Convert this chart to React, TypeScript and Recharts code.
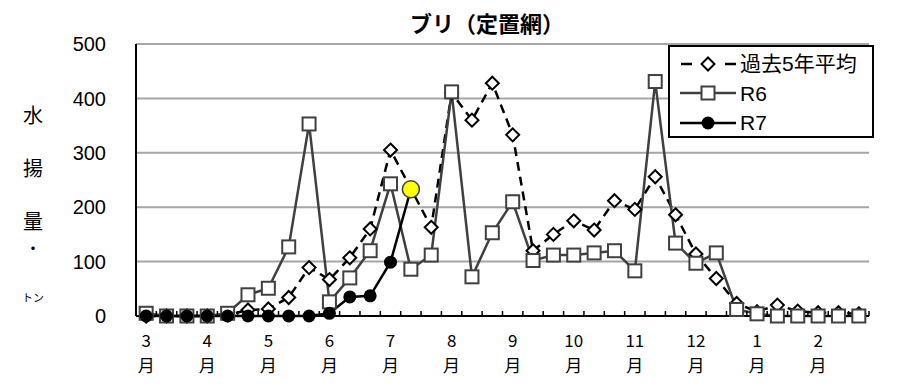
import { LineChart, Line, XAxis, YAxis, CartesianGrid, Legend } from "recharts";

// 旬別（上・中・下旬）3月〜翌2月
const monthLabels = ["3", "4", "5", "6", "7", "8", "9", "10", "11", "12", "1", "2"];
const avg5 = [0, 0, 0, 0, 2, 11, 13, 34, 89, 67, 107, 160, 305, 234, 163, 410, 360, 428, 333, 120, 150, 175, 158, 212, 196, 256, 186, 114, 69, 23, 8, 20, 9, 6, 6, 4];
const r6 = [5, 0, 0, 0, 5, 39, 51, 127, 353, 26, 70, 120, 243, 86, 112, 412, 72, 153, 210, 102, 112, 112, 116, 120, 83, 431, 134, 97, 116, 12, 4, 0, 0, 0, 0, 0];
const r7 = [0, 0, 0, 0, 0, 0, 0, 0, 0, 5, 35, 37, 99, 233];
const yTicks = [0, 100, 200, 300, 400, 500];

const data = avg5.map((v, i) => ({ i, avg: v, r6: r6[i], r7: i < r7.length ? r7[i] : null }));
const monthTicks = monthLabels.map((_, k) => k * 3);
const boundaryTicks = avg5.map((_, i) => i + 0.5);
const xTicks = [...monthTicks, ...boundaryTicks];

const JP = "'Noto Sans CJK JP', 'Noto Sans', sans-serif";
const NARROW = "'Liberation Sans Narrow', 'Liberation Sans'";

function XTick(props: any) {
  const { x, y, payload } = props;
  const v = payload.value;
  if (Number.isInteger(v)) {
    return (
      <g>
        <text x={x} y={y + 31} textAnchor="middle" fontSize={17} fontFamily={JP} fill="#000">
          {monthLabels[v / 3]}
        </text>
        <text x={x} y={y + 56} textAnchor="middle" fontSize={17} fontFamily={JP} fill="#000">
          月
        </text>
      </g>
    );
  }
  return <line x1={x} x2={x} y1={y} y2={y - 5} stroke="#000" strokeWidth={1.5} />;
}

function Diamond(props: any) {
  const { cx, cy, index } = props;
  if (cx == null || cy == null) return <g key={`d${index}`} />;
  return (
    <polygon
      key={`d${index}`}
      points={`${cx},${cy - 6.5} ${cx + 6.5},${cy} ${cx},${cy + 6.5} ${cx - 6.5},${cy}`}
      fill="#fff"
      stroke="#000"
      strokeWidth={2}
    />
  );
}

function Square(props: any) {
  const { cx, cy, index } = props;
  if (cx == null || cy == null) return <g key={`s${index}`} />;
  return <rect key={`s${index}`} x={cx - 6.5} y={cy - 6.5} width={13} height={13} fill="#fff" stroke="#404040" strokeWidth={2} />;
}

function Dot(props: any) {
  const { cx, cy, index } = props;
  if (cx == null || cy == null) return <g key={`c${index}`} />;
  if (index === r7.length - 1) {
    return <circle key={`c${index}`} cx={cx} cy={cy} r={8.5} fill="#ffff00" stroke="#404040" strokeWidth={1.5} />;
  }
  return <circle key={`c${index}`} cx={cx} cy={cy} r={6.5} fill="#000" />;
}

function LegendBox() {
  const rows = [
    { label: "過去5年平均", kind: "avg" },
    { label: "R6", kind: "r6" },
    { label: "R7", kind: "r7" },
  ];
  return (
    <div style={{ border: "2px solid #000", background: "#fff", padding: "2px 0 2px 10px", boxSizing: "border-box", width: 206, height: 93 }}>
      {rows.map((r) => (
        <div key={r.kind} style={{ display: "flex", alignItems: "center", height: 29.5 }}>
          <svg width={58} height={20}>
            {r.kind === "avg" && (
              <>
                <line x1={1} x2={12} y1={10} y2={10} stroke="#000" strokeWidth={2.5} />
                <line x1={45} x2={56} y1={10} y2={10} stroke="#000" strokeWidth={2.5} />
                <Diamond cx={28} cy={10} index={0} />
              </>
            )}
            {r.kind === "r6" && (
              <>
                <line x1={0} x2={56} y1={10} y2={10} stroke="#404040" strokeWidth={2.5} />
                <Square cx={28} cy={10} index={0} />
              </>
            )}
            {r.kind === "r7" && (
              <>
                <line x1={0} x2={56} y1={10} y2={10} stroke="#000" strokeWidth={2.5} />
                <circle cx={28} cy={10} r={6.5} fill="#000" />
              </>
            )}
          </svg>
          <span style={{ fontFamily: `${NARROW}, ${JP}`, fontSize: 21, marginLeft: 2, lineHeight: 1 }}>{r.label}</span>
        </div>
      ))}
    </div>
  );
}

export default function App() {
  return (
    <div style={{ position: "absolute", left: 0, top: 0, width: 899, height: 384, background: "#fff" }}>
      <div
        style={{
          position: "absolute",
          left: 387,
          width: 200,
          top: 8,
          textAlign: "center",
          fontFamily: JP,
          fontWeight: 700,
          fontSize: 22,
          lineHeight: "28px",
        }}
      >
        ブリ（定置網）
      </div>
      {[
        { t: "水", y: 115 },
        { t: "揚", y: 168 },
        { t: "量", y: 221 },
      ].map((c) => (
        <div
          key={c.t}
          style={{ position: "absolute", left: 18, width: 30, top: c.y - 11, textAlign: "center", fontFamily: JP, fontSize: 20, lineHeight: "22px" }}
        >
          {c.t}
        </div>
      ))}
      <div style={{ position: "absolute", left: 18, width: 30, top: 240, textAlign: "center", fontFamily: JP, fontSize: 16, lineHeight: "14px" }}>
        ・
      </div>
      <div style={{ position: "absolute", left: 18, width: 30, top: 290, textAlign: "center", fontFamily: JP, fontSize: 11, lineHeight: "14px" }}>
        トン
      </div>
      <LineChart width={899} height={384} data={data} margin={{ top: 44, right: 30, bottom: 0, left: 0 }}>
        <CartesianGrid vertical={false} stroke="#a6a6a6" strokeWidth={2} />
        <XAxis
          dataKey="i"
          type="number"
          domain={[-0.5, 35.5]}
          ticks={xTicks}
          interval={0}
          height={68}
          tickSize={0}
          tickMargin={0}
          tickLine={false}
          tick={<XTick />}
          axisLine={{ stroke: "#000", strokeWidth: 2 }}
        />
        <YAxis
          domain={[0, 500]}
          ticks={yTicks}
          width={136}
          tickSize={0}
          tickMargin={30}
          tickLine={false}
          axisLine={{ stroke: "#000", strokeWidth: 2 }}
          tick={{ fontSize: 20, fontFamily: "'Liberation Sans', sans-serif", fill: "#000" }}
        />
        <Legend
          layout="vertical"
          align="center"
          verticalAlign="middle"
          wrapperStyle={{ left: 668, top: 45, width: 206, height: 93 }}
          content={() => <LegendBox />}
        />
        <Line dataKey="avg" name="過去5年平均" stroke="#000" strokeWidth={2.5} strokeDasharray="9 6" dot={<Diamond />} isAnimationActive={false} />
        <Line dataKey="r6" name="R6" stroke="#404040" strokeWidth={2.5} dot={<Square />} isAnimationActive={false} />
        <Line dataKey="r7" name="R7" stroke="#000" strokeWidth={2.5} dot={<Dot />} isAnimationActive={false} connectNulls={false} />
      </LineChart>
    </div>
  );
}
